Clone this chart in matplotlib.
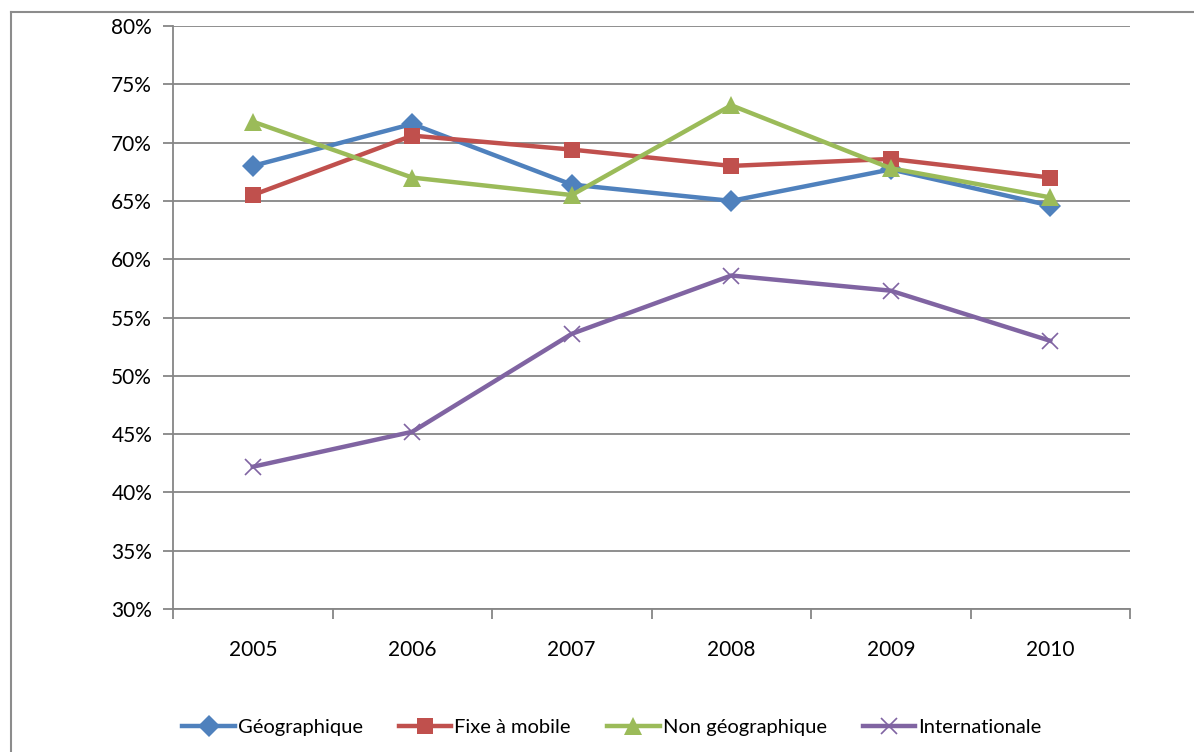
import matplotlib.pyplot as plt
from matplotlib.lines import Line2D
from matplotlib.ticker import FuncFormatter

years = ['2005', '2006', '2007', '2008', '2009', '2010']
geographique = [68.0, 71.6, 66.4, 65.0, 67.7, 64.6]
fixe_mobile = [65.5, 70.6, 69.4, 68.0, 68.6, 67.0]
non_geographique = [71.8, 67.0, 65.5, 73.2, 67.8, 65.3]
internationale = [42.2, 45.2, 53.6, 58.6, 57.3, 53.0]

plt.rcParams['font.family'] = ['Lato', 'DejaVu Sans']

W, H = 1194, 752
fig = plt.figure(figsize=(W / 100, H / 100), dpi=100)
ax = fig.add_axes([173 / W, 1 - 609 / H, (1130 - 173) / W, (609 - 26) / H])

# outer chart frame (only top and left edges visible)
fig.add_artist(Line2D([11 / W, 1.0], [1 - 12 / H, 1 - 12 / H], color='#8c8c8c', lw=1.5))
fig.add_artist(Line2D([11 / W, 11 / W], [0.0, 1 - 12 / H], color='#8c8c8c', lw=1.5))

x = list(range(len(years)))
series = [
    ('Géographique', geographique, '#4F81BD', 'D', 11),
    ('Fixe à mobile', fixe_mobile, '#C0504D', 's', 12),
    ('Non géographique', non_geographique, '#9BBB59', '^', 13),
    ('Internationale', internationale, '#8064A2', 'x', 12),
]
for name, vals, col, mk, ms in series:
    ax.plot(x, vals, color=col, lw=3.2, marker=mk, markersize=ms,
            markeredgewidth=1.2 if mk == 'x' else 0, markeredgecolor=col,
            markerfacecolor=col, label=name, zorder=3, solid_joinstyle='round')

ax.set_xlim(-0.5, 5.5)
ax.set_ylim(30, 80)
ax.set_yticks(range(30, 81, 5))
ax.yaxis.set_major_formatter(FuncFormatter(lambda v, p: f'{v:.0f}%'))
ax.yaxis.grid(True, color='#868686', lw=1.3)
ax.set_axisbelow(True)

ax.set_xticks([i - 0.5 for i in range(len(years) + 1)])
ax.set_xticklabels([])
ax.set_xticks(x, minor=True)
ax.set_xticklabels(years, minor=True)
ax.tick_params(axis='x', which='major', length=7, direction='out', color='#868686', width=1.3)
ax.tick_params(axis='x', which='minor', length=0, pad=22, labelsize=15)
ax.tick_params(axis='y', length=7, direction='out', color='#868686', width=1.3, labelsize=15, pad=8)

for s in ['top', 'right']:
    ax.spines[s].set_visible(False)
for s in ['left', 'bottom']:
    ax.spines[s].set_color('#868686')
    ax.spines[s].set_linewidth(1.3)

fig.legend(loc='center', bbox_to_anchor=(612 / W, 1 - 727 / H), ncol=4, frameon=False,
           fontsize=14.5, handlelength=2.6, columnspacing=1.8, handletextpad=0.15)

fig.savefig('out.png', dpi=100)
